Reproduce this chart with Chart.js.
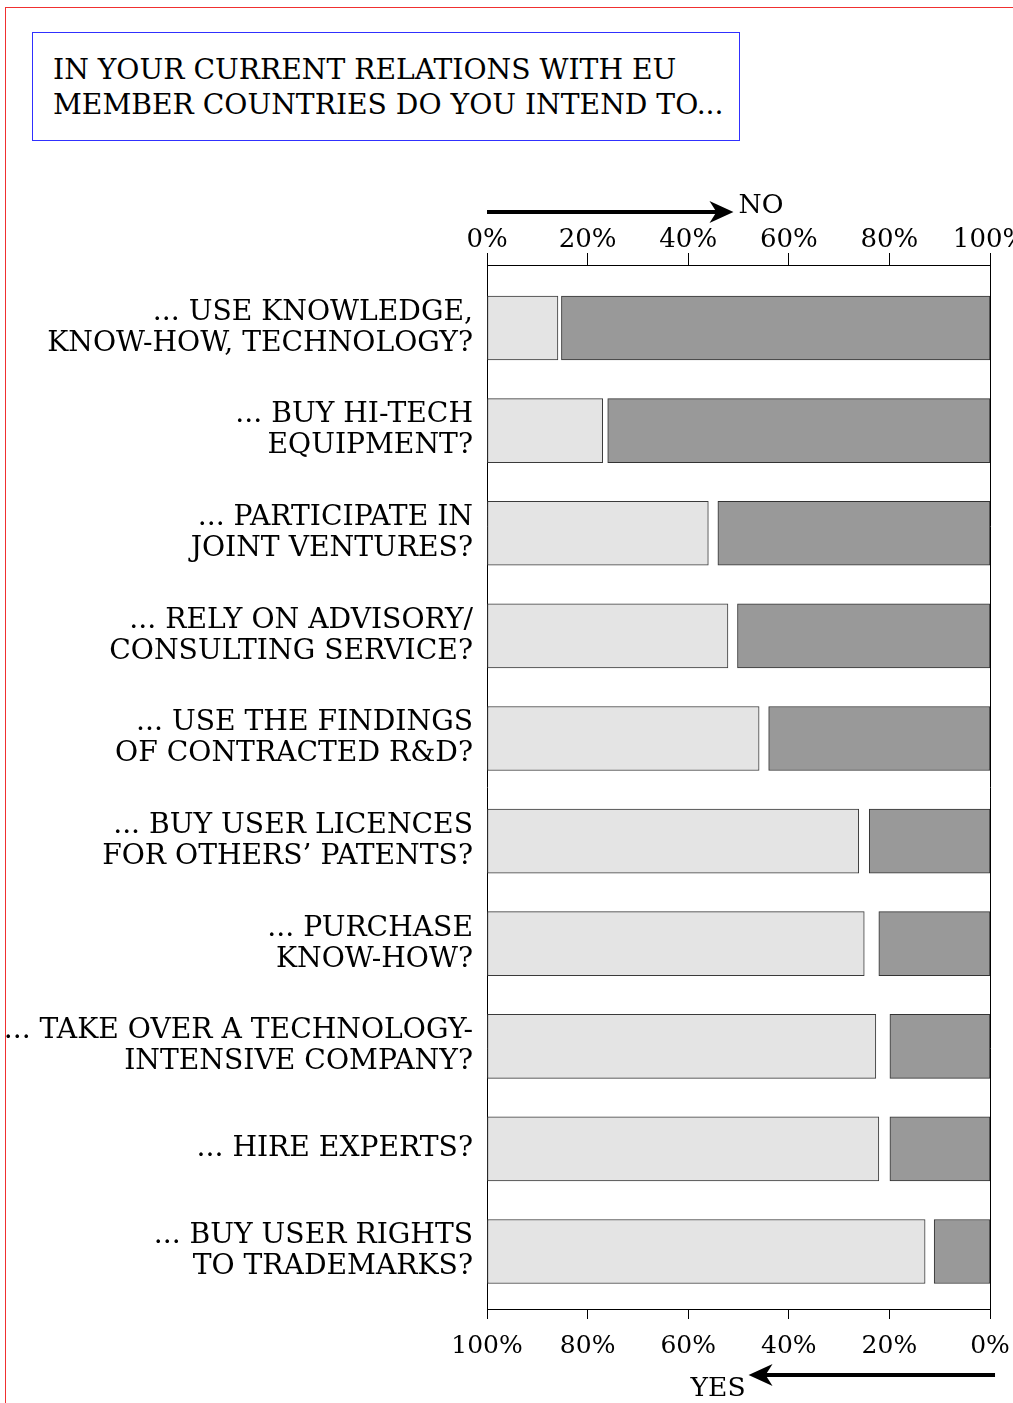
<!DOCTYPE html>
<html>
<head>
<meta charset="utf-8">
<script src="https://cdn.jsdelivr.net/npm/chart.js@4/dist/chart.umd.min.js"></script>
<style>
  html, body { margin: 0; padding: 0; background: #fff; overflow: hidden; width: 1013px; height: 1403px; }
  #frame { position: absolute; left: 5px; top: 7px; right: -10px; bottom: -10px; border-left: 1px solid #f03030; border-top: 1px solid #f03030; }
  #titlebox { position: absolute; left: 32px; top: 32px; width: 706px; height: 107px; border: 1px solid #3030ff; box-sizing: content-box; }
  #titlebox div { position: absolute; left: 20px; top: 19px; font-family: "DejaVu Serif", serif; font-size: 28.2px; line-height: 35px; color: #000; white-space: nowrap; }
  #c { position: absolute; left: 0; top: 0; }
</style>
</head>
<body>
<div id="frame"></div>
<div id="titlebox"><div>IN YOUR CURRENT RELATIONS WITH EU<br>MEMBER COUNTRIES DO YOU INTEND TO...</div></div>
<canvas id="c" width="1060" height="1403"></canvas>
<script>
const CATEGORIES = [
  ['... USE KNOWLEDGE,', 'KNOW-HOW, TECHNOLOGY?'],
  ['... BUY HI-TECH', 'EQUIPMENT?'],
  ['... PARTICIPATE IN', 'JOINT VENTURES?'],
  ['... RELY ON ADVISORY/', 'CONSULTING SERVICE?'],
  ['... USE THE FINDINGS', 'OF CONTRACTED R&D?'],
  ['... BUY USER LICENCES', 'FOR OTHERS\u2019 PATENTS?'],
  ['... PURCHASE', 'KNOW-HOW?'],
  ['... TAKE OVER A TECHNOLOGY-', 'INTENSIVE COMPANY?'],
  ['... HIRE EXPERTS?'],
  ['... BUY USER RIGHTS', 'TO TRADEMARKS?']
];
const YES = [14.1, 23.0, 44.0, 47.9, 54.1, 73.9, 75.0, 77.3, 77.9, 87.1];
const NO  = [85.2, 76.0, 54.1, 50.2, 44.0, 24.0, 22.1, 19.9, 19.9, 11.1];
const TICKS_TOP = [0, 20, 40, 60, 80, 100];
const NO_ARROW_END = 49;
const YES_ARROW_END = 48;

const FONT = '"DejaVu Serif", serif';

const arrowPlugin = {
  id: 'arrows',
  afterDraw(chart) {
    const ctx = chart.ctx;
    const xs = chart.scales.x, x2 = chart.scales.x2, a = chart.chartArea;
    ctx.save();
    ctx.fillStyle = '#000';
    ctx.strokeStyle = '#000';
    ctx.lineWidth = 4;
    // top arrow (NO)
    let y = a.top - 53;
    let x0 = xs.getPixelForValue(0), tip = xs.getPixelForValue(NO_ARROW_END);
    ctx.beginPath(); ctx.moveTo(x0, y); ctx.lineTo(tip - 14, y); ctx.stroke();
    ctx.beginPath(); ctx.moveTo(tip, y); ctx.lineTo(tip - 24, y - 11); ctx.lineTo(tip - 17, y); ctx.lineTo(tip - 24, y + 11); ctx.closePath(); ctx.fill();
    ctx.font = '26.5px ' + FONT;
    ctx.textAlign = 'left'; ctx.textBaseline = 'alphabetic';
    ctx.fillText('NO', tip + 5, y + 1);
    // bottom arrow (YES)
    y = a.bottom + 66;
    x0 = x2.getPixelForValue(-1); tip = x2.getPixelForValue(YES_ARROW_END);
    ctx.beginPath(); ctx.moveTo(x0, y); ctx.lineTo(tip + 14, y); ctx.stroke();
    ctx.beginPath(); ctx.moveTo(tip, y); ctx.lineTo(tip + 24, y - 11); ctx.lineTo(tip + 17, y); ctx.lineTo(tip + 24, y + 11); ctx.closePath(); ctx.fill();
    ctx.textAlign = 'right';
    ctx.fillText('YES', tip - 3, y + 21);
    ctx.restore();
  }
};

new Chart(document.getElementById('c'), {
  type: 'bar',
  data: {
    datasets: [
      {
        label: 'YES',
        data: YES.map((v, i) => ({ x: [0, v], y: i })),
        backgroundColor: '#e4e4e4',
        borderColor: '#3a3a3a',
        borderWidth: 1,
        borderSkipped: false,
        barThickness: 64,
        grouped: false,
        xAxisID: 'x', yAxisID: 'y'
      },
      {
        label: 'NO',
        data: NO.map((v, i) => ({ x: [100 - v, 100], y: i })),
        backgroundColor: '#999999',
        borderColor: '#333',
        borderWidth: 1,
        borderSkipped: false,
        barThickness: 64,
        grouped: false,
        xAxisID: 'x', yAxisID: 'y'
      }
    ]
  },
  options: {
    indexAxis: 'y',
    responsive: false,
    animation: false,
    devicePixelRatio: 1,
    layout: { padding: { left: 0, right: 70, top: 205, bottom: 34 } },
    plugins: { legend: { display: false }, tooltip: { enabled: false }, title: { display: false } },
    scales: {
      x: {
        type: 'linear', position: 'top', min: 0, max: 100,
        afterBuildTicks: s => { s.ticks = TICKS_TOP.map(v => ({ value: v })); },
        afterFit: s => { s.height = 60; },
        ticks: { callback: v => v + '%', color: '#000', font: { family: FONT, size: 26 }, padding: -3, maxRotation: 0, autoSkip: false },
        grid: {
          drawOnChartArea: true, drawTicks: true, tickLength: 12,
          color: c => (c.tick && (c.tick.value === 0 || c.tick.value === 100)) ? '#000' : 'rgba(0,0,0,0)',
          tickColor: '#000', lineWidth: 1
        },
        border: { display: true, color: '#000', width: 1 }
      },
      x2: {
        type: 'linear', position: 'bottom', min: 0, max: 100, reverse: true,
        afterBuildTicks: s => { s.ticks = TICKS_TOP.map(v => ({ value: v })); },
        afterFit: s => { s.height = 60; },
        ticks: { callback: v => v + '%', color: '#000', font: { family: FONT, size: 25 }, padding: 12, maxRotation: 0, autoSkip: false },
        grid: { drawOnChartArea: false, drawTicks: true, tickLength: 10, color: '#000', tickColor: '#000', lineWidth: 1 },
        border: { display: true, color: '#000', width: 1 }
      },
      y: {
        type: 'linear', reverse: true, min: -0.614, max: 9.56, offset: false,
        afterBuildTicks: s => { s.ticks = CATEGORIES.map((_, i) => ({ value: i })); },
        afterFit: s => { s.width = 487; },
        ticks: {
          callback: v => CATEGORIES[v], color: '#000',
          font: { family: FONT, size: 28.2, lineHeight: 1.1 }, padding: 14, autoSkip: false
        },
        grid: { display: false, drawTicks: false, offset: false },
        border: { display: false }
      }
    }
  },
  plugins: [arrowPlugin]
});
</script>
</body>
</html>
